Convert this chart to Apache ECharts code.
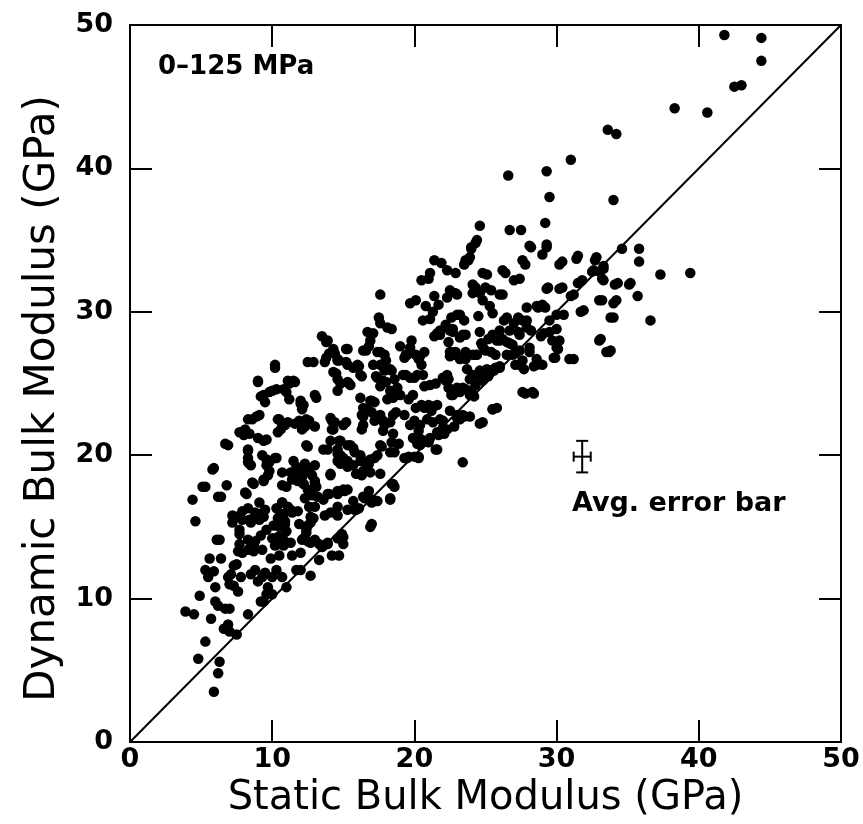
<!DOCTYPE html>
<html>
<head>
<meta charset="utf-8">
<script src="https://cdn.jsdelivr.net/npm/echarts@6/dist/echarts.min.js"></script>
<style>
html,body{margin:0;padding:0;background:#fff;}
#chart{width:863px;height:824px;}
</style>
</head>
<body>
<div id="chart"></div>
<script>
// Static (x) vs dynamic (y) bulk modulus, GPa
const samples = [
[41.8,49.3],[44.4,49.1],[44.4,47.5],[42.5,45.7],[43.0,45.8],[38.3,44.2],[40.6,43.9],[33.6,42.7],[34.2,42.4],[31.0,40.6],
[26.6,39.5],[29.3,39.8],[29.5,38.0],[34.0,37.8],[29.2,36.2],[24.6,36.0],[26.7,35.7],[27.5,35.7],[29.3,34.5],[24.3,34.8],
[24.0,34.4],[28.2,34.5],[34.6,34.4],[35.8,34.4],[35.8,33.5],[23.8,33.6],[23.5,33.3],[21.9,33.4],[27.8,33.3],[30.2,33.3],
[31.4,33.7],[32.7,33.6],[32.5,32.8],[33.0,32.8],[33.2,32.3],[33.3,33.0],[37.3,32.6],[39.4,32.7],[25.1,32.6],[26.4,32.7],
[22.9,32.7],[21.0,32.3],[20.5,32.2],[19.7,30.6],[20.1,30.8],[20.8,30.4],[22.3,31.0],[22.9,31.3],[24.6,31.3],[25.4,31.5],
[24.3,31.7],[26.2,31.2],[27.0,32.2],[29.3,31.6],[30.2,31.6],[31.0,31.1],[31.5,32.0],[34.1,31.9],[35.1,31.9],[35.7,31.1],
[34.0,30.6],[33.0,30.8],[31.7,30.0],[30.0,29.8],[29.5,29.4],[29.0,30.5],[28.7,30.3],[36.6,29.4],[33.8,29.6],[33.0,28.0],
[33.5,27.2],[33.7,27.2],[30.9,26.7],[29.8,26.8],[30.1,27.4],[29.7,28.0],[28.9,28.3],[29.1,28.5],[28.4,26.2],[28.6,26.7],
[27.7,26.0],[27.8,24.3],[28.4,24.3],[27.6,26.6],[27.1,27.1],[26.7,27.8],[26.0,28.0],[26.3,29.4],[26.0,28.7],[25.5,28.4],
[25.2,28.1],[27.4,28.4],[27.9,28.9],[28.2,28.7],[27.6,29.4],[27.0,29.2],[25.7,26.1],[26.0,26.2],[25.2,25.5],[25.6,25.9],
[25.0,25.6],[24.8,25.2],[24.3,24.9],[24.2,24.1],[25.5,23.2],[25.8,23.3],[24.6,22.2],[23.9,22.7],[23.5,22.7],[23.2,22.5],
[22.8,22.0],[22.3,21.8],[22.1,21.5],[21.6,21.6],[23.4,19.5],[21.5,20.4],[21.0,20.9],[20.5,21.1],[20.4,20.7],[20.0,19.9],
[19.6,19.9],[21.3,22.3],[21.8,22.5],[22.0,22.4],[21.3,23.4],[20.7,23.3],[20.1,23.3],[20.7,24.8],[21.5,25.0],[22.4,25.3],
[22.5,26.9],[22.9,27.2],[23.2,26.7],[23.7,26.0],[23.6,24.6],[24.0,24.5],[24.4,27.0],[24.7,27.8],[25.0,27.3],[25.4,27.2],
[22.7,28.6],[23.2,28.2],[22.2,29.1],[23.0,29.8],[23.5,29.4],[21.6,28.5],[21.4,28.3],[21.1,29.5],[20.6,29.4],[21.3,30.0],
[20.1,27.0],[20.4,26.9],[19.4,27.0],[19.3,26.8],[19.7,27.5],[20.0,25.4],[20.6,25.6],[19.4,25.6],[18.6,25.3],[18.3,24.5],
[18.5,24.3],[18.1,23.9],[19.6,23.9],[20.0,22.4],[19.3,22.8],[18.7,23.0],[18.3,22.3],[17.6,22.8],[17.2,22.4],[17.8,22.4],
[18.5,21.5],[18.9,20.8],[18.3,20.2],[17.7,20.6],[17.4,20.0],[17.2,19.8],[16.8,19.4],[16.9,18.8],[17.6,18.7],[18.4,18.0],
[18.6,17.8],[18.3,17.0],[17.4,16.8],[17.0,16.7],[16.9,15.0],[16.5,17.0],[16.8,17.5],[17.6,31.2],[17.5,29.6],[17.6,29.2],
[18.1,28.9],[17.1,28.5],[16.6,27.3],[16.8,27.6],[17.6,27.2],[18.0,26.6],[18.3,26.0],[17.7,26.3],[17.3,25.5],[17.6,24.8],
[18.0,25.1],[16.3,25.5],[16.1,26.2],[15.2,27.4],[15.2,26.5],[14.7,26.6],[14.4,27.1],[14.0,27.1],[13.8,26.8],[13.5,28.3],
[13.8,27.9],[15.4,25.0],[14.8,25.0],[14.5,25.7],[14.6,25.3],[16.2,24.0],[16.9,23.8],[17.2,23.7],[17.0,23.0],[16.4,23.3],
[16.4,22.7],[15.2,22.3],[14.4,22.3],[14.2,21.8],[14.7,21.0],[14.6,20.4],[14.8,20.0],[15.3,20.7],[15.0,19.8],[15.3,19.6],
[15.7,20.5],[16.2,20.0],[16.2,19.6],[15.7,19.3],[15.9,18.7],[16.5,18.9],[16.7,19.0],[14.6,19.6],[14.1,18.6],[14.0,17.3],
[14.6,17.3],[15.0,17.6],[15.3,16.2],[16.1,16.3],[15.7,16.8],[13.6,20.4],[13.0,19.3],[12.8,18.6],[12.6,19.0],[12.3,19.4],
[12.1,18.5],[11.9,18.7],[11.6,18.4],[12.2,18.0],[12.5,17.6],[13.0,18.2],[13.1,17.8],[12.8,17.2],[12.3,17.0],[13.2,17.1],
[13.6,16.9],[12.6,16.4],[12.9,15.6],[12.5,15.1],[12.4,14.6],[12.2,14.2],[12.5,14.0],[13.0,14.1],[13.3,13.8],[13.9,13.8],
[13.7,15.8],[14.1,16.0],[14.6,14.2],[14.9,14.5],[13.3,12.7],[12.7,11.6],[11.7,12.0],[11.0,10.8],[11.4,13.0],[12.0,13.2],
[11.9,15.2],[11.8,16.1],[11.4,16.0],[11.1,16.4],[10.7,16.7],[10.6,15.9],[10.3,16.3],[10.4,15.6],[10.9,15.4],[11.0,14.7],
[10.5,14.3],[10.0,14.2],[10.2,13.7],[10.8,13.7],[10.5,13.0],[9.9,12.8],[10.3,12.0],[10.0,11.5],[10.7,11.5],[9.5,11.8],
[9.7,10.8],[9.6,10.3],[9.2,9.8],[9.3,11.5],[9.0,11.2],[8.8,12.0],[8.5,11.7],[11.0,17.8],[11.3,18.8],[11.5,19.6],
[12.5,20.6],[13.0,22.0],[12.6,22.4],[12.3,22.0],[12.1,23.2],[12.2,23.5],[11.9,22.4],[11.6,22.2],[11.1,22.3],[10.7,22.1],
[10.4,22.5],[10.6,21.8],[10.2,19.8],[9.8,19.5],[9.6,19.3],[9.4,18.2],[9.7,18.6],[9.3,20.0],[9.0,21.2],[9.4,21.0],
[8.9,22.7],[8.0,21.4],[8.4,21.5],[8.6,22.5],[9.2,24.1],[9.0,25.1],[9.8,24.4],[9.5,23.7],[10.3,24.6],[10.2,26.1],
[11.2,25.0],[11.6,25.1],[11.0,24.4],[11.2,23.9],[12.9,26.5],[13.1,24.0],[12.0,23.6],[13.9,28.0],[8.3,20.3],[8.5,19.3],
[8.3,19.5],[8.7,18.0],[8.1,17.4],[7.9,16.1],[8.3,16.3],[7.6,15.7],[7.2,15.8],[7.7,14.5],[8.5,15.3],[8.8,15.7],
[9.1,15.5],[9.4,15.7],[9.6,14.8],[9.2,14.4],[8.8,14.0],[8.7,13.3],[8.3,13.4],[7.9,13.2],[7.6,13.3],[7.5,12.4],
[7.3,12.3],[7.1,11.7],[7.0,11.0],[7.3,10.9],[7.6,10.5],[7.8,11.5],[6.9,11.5],[6.4,12.8],[6.3,14.1],[5.6,12.8],
[5.5,11.5],[5.3,12.0],[5.9,11.9],[6.0,10.8],[6.7,9.3],[7.0,9.3],[6.2,9.5],[6.0,9.8],[5.7,8.6],[4.9,10.2],
[4.5,8.9],[3.9,9.1],[5.3,7.0],[6.6,7.9],[6.9,8.2],[7.0,7.7],[7.5,7.5],[8.3,8.9],[4.8,5.8],[6.3,5.6],
[6.2,4.8],[5.9,3.5],[4.4,16.9],[4.6,15.4],[5.3,17.8],[5.9,19.1],[6.4,17.1],[6.9,20.7],[9.1,16.7],[9.4,9.8],
[10.0,10.3],[12.0,12.0],[13.5,13.6],[14.7,13.0],[15.0,14.3],[15.9,16.2],[17.1,16.8],[19.5,19.8],[20.3,19.9],[14.2,13.0]
];
// additional points read from the dense core of the cloud
const samplesCore = [
[24.4,35.0],[24.0,34.5],[23.6,33.6],[23.9,33.8],[28.1,34.6],[29.3,34.7],[29.0,34.0],[27.6,33.6],[30.4,33.5],[31.5,33.9],
[32.8,33.8],[21.4,33.6],[22.3,32.9],[24.8,32.7],[26.2,32.9],[27.4,32.3],[21.1,32.7],[32.6,32.9],[33.3,33.2],[33.3,32.2],
[34.3,32.0],[35.2,32.0],[22.5,31.5],[23.0,31.2],[24.1,31.9],[24.1,31.3],[25.0,31.7],[26.0,31.2],[21.4,31.1],[21.7,30.5],
[24.8,30.8],[25.3,30.4],[25.5,29.9],[24.5,29.7],[23.2,29.8],[22.6,29.6],[22.5,28.7],[21.8,28.4],[23.4,28.4],[24.6,28.6],
[26.5,29.6],[27.3,29.6],[27.9,29.4],[27.9,30.3],[28.6,30.4],[29.2,30.3],[29.4,31.7],[30.4,31.7],[31.2,31.2],[30.5,29.8],
[31.8,32.2],[31.9,30.1],[33.2,30.8],[34.2,30.8],[34.0,29.6],[33.1,28.1],[33.8,27.3],[31.2,26.7],[29.5,28.6],[30.0,28.8],
[30.2,28.0],[30.0,27.5],[29.9,26.8],[29.0,26.3],[28.6,26.3],[26.7,28.7],[27.3,28.6],[28.1,27.5],[28.1,27.2],[26.9,27.7],
[27.4,27.3],[25.8,28.0],[26.2,28.1],[26.5,27.9],[24.8,27.6],[25.7,27.0],[26.5,27.0],[26.9,27.0],[27.4,26.3],[27.1,26.3],
[24.1,27.0],[23.6,27.2],[22.9,27.0],[22.5,27.2],[24.6,25.9],[24.1,25.6],[25.3,25.9],[26.0,26.1],[23.9,25.3],[24.0,24.5],
[23.4,24.7],[23.2,24.4],[22.7,24.2],[22.3,25.6],[22.2,25.2],[22.4,24.7],[21.1,24.9],[21.6,23.5],[21.2,23.1],[27.6,24.4],
[28.3,24.4],[25.5,23.2],[23.4,22.8],[23.0,22.8],[24.8,22.3],
[16.7,28.6],[18.4,28.8],[14.3,27.4],[15.3,27.4],[16.4,27.3],[16.9,28.0],[14.6,26.6],[15.7,26.1],[16.2,25.6],[15.5,24.9],
[17.4,27.2],[17.9,27.0],[17.6,26.3],[17.1,26.3],[17.9,25.9],[18.4,25.9],[19.0,27.6],[19.8,28.0],[19.5,27.0],[20.7,27.2],
[20.3,26.7],[20.5,26.3],[17.4,25.4],[17.8,25.2],[19.2,25.6],[19.7,25.4],[20.2,25.6],[18.8,24.7],[19.0,24.2],[18.5,24.0],
[19.9,24.2],[20.5,23.5],[21.0,23.5],[21.8,28.7],[22.7,28.8],[23.6,28.4],[22.4,27.9],[22.6,27.2],[23.6,26.7],[24.3,27.0],
[22.0,25.4],[23.0,24.7],[24.4,25.6],[25.1,26.0],[22.6,24.2],[23.9,24.2],[23.0,22.6],[22.5,23.1],[14.1,22.6],[15.0,22.1],
[16.3,22.8],[16.7,23.2],[17.0,23.8],[17.9,22.1],[18.5,22.8],[17.8,21.7],[16.4,22.1],[16.3,21.8],[19.7,22.1],[20.4,22.1],
[20.9,22.5],[22.0,21.9],[21.7,21.4],[21.1,21.2],[20.3,21.7],[19.9,21.2],[20.2,20.8],[20.6,20.9],[21.6,20.4],[20.3,19.8],
[19.3,19.8],[18.4,20.9],[18.6,20.2],[17.6,20.7],[14.1,21.0],[14.8,21.0],[15.5,20.7],[15.8,20.2],[14.6,20.1],[14.8,19.4],
[15.3,19.2],[16.4,19.6],[16.9,19.7],[16.4,18.9],[16.3,18.6],[18.5,18.0],[18.3,16.9],[17.1,16.9],[16.4,17.1],[15.8,16.2],
[14.6,17.5],[15.1,17.5],[14.6,16.4],[17.0,15.2],
[10.2,26.3],[12.5,26.5],[13.7,26.5],[14.6,26.7],[15.3,26.3],[16.0,26.3],[9.0,25.2],[11.1,25.2],[11.5,25.2],[10.8,24.6],
[10.0,24.5],[9.4,24.2],[12.0,23.8],[13.0,24.2],[14.3,25.8],[15.3,25.1],[14.6,24.5],[14.2,22.4],[14.3,21.8],[8.3,22.5],
[9.1,22.8],[10.5,22.5],[10.9,22.1],[10.4,21.6],[12.0,22.3],[12.4,22.5],[12.1,21.8],[7.7,21.6],[8.1,21.8],[9.6,21.1],
[6.7,20.8],[8.3,20.4],[8.3,19.8],[8.4,19.4],[9.6,19.7],[10.3,19.8],[9.8,18.9],[10.7,18.8],[12.4,20.7],[13.9,20.4],
[5.8,19.0],[5.1,17.8],[6.8,17.9],[6.2,17.1],[8.2,17.3],[8.6,18.1],[9.4,18.3],[10.7,17.9],[11.4,18.3],[11.7,19.2],
[12.0,18.7],[12.2,18.0],[12.7,17.5],[13.0,18.1],[12.2,18.9],[11.8,18.2],[13.9,17.3],[14.6,17.4],[15.3,17.6],[14.1,18.7],
[10.7,16.7],[11.3,16.2],[10.8,15.9],[10.9,15.2],[10.5,15.0],[10.1,15.1],[10.4,14.3],[9.5,16.2],[9.1,15.9],[8.8,16.0],
[8.4,15.5],[7.9,15.5],[7.5,15.7],[7.2,15.3],[7.7,14.8],[8.3,14.1],[8.7,13.7],[9.3,13.4],[6.1,14.1],[7.7,13.8],
[10.5,13.8],[10.8,14.1],[11.3,13.9],[12.7,15.7],[13.0,16.4],[12.7,15.3],[12.4,14.8],[12.1,14.1],[12.7,13.9],[13.6,13.7],
[13.9,13.9],[14.6,15.8],[14.9,14.1],[15.0,13.8]
];
const xTicks = [0, 10, 20, 30, 40, 50];
const yTicks = [0, 10, 20, 30, 40, 50];
const identityLine = [[0, 0], [50, 50]];
// average error bar: [x, y, xError, yError]
const avgErrorBar = [[31.8, 19.9, 0.6, 1.1]];

const FONT = 'DejaVu Sans';
const chart = echarts.init(document.getElementById('chart'), null, {renderer: 'canvas'});

const baseAxis = {
  min: 0, max: 50, interval: 10,
  axisLine: {show: true, onZero: false, lineStyle: {color: '#000', width: 2}},
  axisTick: {show: true, inside: true, length: 22, lineStyle: {color: '#000', width: 2}},
  splitLine: {show: false},
  minorTick: {show: false}
};

chart.setOption({
  animation: false,
  backgroundColor: '#fff',
  grid: {left: 130, right: 22, top: 25, bottom: 79, containLabel: false},
  xAxis: [
    Object.assign({}, baseAxis, {
      type: 'value', position: 'bottom',
      name: 'Static Bulk Modulus (GPa)', nameLocation: 'middle', nameGap: 37,
      nameTextStyle: {fontFamily: FONT, fontSize: 40, color: '#000'},
      axisLabel: {fontFamily: FONT, fontSize: 27, fontWeight: 'bold', color: '#000', margin: 4,
        formatter: v => xTicks.includes(v) ? String(v) : ''}
    }),
    Object.assign({}, baseAxis, {type: 'value', position: 'top', axisLabel: {show: false}})
  ],
  yAxis: [
    Object.assign({}, baseAxis, {
      type: 'value', position: 'left',
      name: 'Dynamic Bulk Modulus (GPa)', nameLocation: 'middle', nameGap: 64,
      nameTextStyle: {fontFamily: FONT, fontSize: 42, color: '#000', padding: [0, 30, 0, 0]},
      axisLabel: {fontFamily: FONT, fontSize: 27, fontWeight: 'bold', color: '#000', margin: 17,
        formatter: v => yTicks.includes(v) ? String(v) : ''}
    }),
    Object.assign({}, baseAxis, {type: 'value', position: 'right', axisLabel: {show: false}})
  ],
  graphic: [
    {type: 'text', left: 158, top: 54, style: {text: '0\u2013125 MPa', font: 'bold 26px "DejaVu Sans"', fill: '#000'}},
    {type: 'text', left: 572, top: 490, style: {text: 'Avg. error bar', font: 'bold 27px "DejaVu Sans"', fill: '#000'}}
  ],
  series: [
    {
      type: 'line', data: identityLine, showSymbol: false, symbol: 'none',
      lineStyle: {color: '#000', width: 2}, silent: true, z: 1
    },
    {
      type: 'scatter', data: samples.concat(samplesCore), symbol: 'circle', symbolSize: 10.5,
      itemStyle: {color: '#000', opacity: 1}, z: 2
    },
    {
      type: 'custom', data: avgErrorBar, z: 3,
      renderItem: function (params, api) {
        const x = api.value(0), y = api.value(1), dx = api.value(2), dy = api.value(3);
        const c = api.coord([x, y]);
        const l = api.coord([x - dx, y]), r = api.coord([x + dx, y]);
        const t = api.coord([x, y + dy]), b = api.coord([x, y - dy]);
        const st = {stroke: '#000', lineWidth: 2};
        const cap = 6, capV = 5;
        return {type: 'group', children: [
          {type: 'line', shape: {x1: l[0], y1: c[1], x2: r[0], y2: c[1]}, style: st},
          {type: 'line', shape: {x1: l[0], y1: c[1] - capV, x2: l[0], y2: c[1] + capV}, style: st},
          {type: 'line', shape: {x1: r[0], y1: c[1] - capV, x2: r[0], y2: c[1] + capV}, style: st},
          {type: 'line', shape: {x1: c[0], y1: t[1], x2: c[0], y2: b[1]}, style: st},
          {type: 'line', shape: {x1: c[0] - cap, y1: t[1], x2: c[0] + cap, y2: t[1]}, style: st},
          {type: 'line', shape: {x1: c[0] - cap, y1: b[1], x2: c[0] + cap, y2: b[1]}, style: st}
        ]};
      }
    }
  ]
});
</script>
</body>
</html>
